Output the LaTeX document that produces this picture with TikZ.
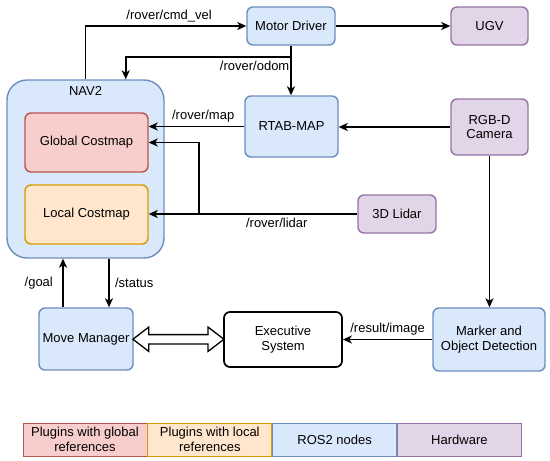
\documentclass[tikz,border=0pt]{standalone}
\usepackage{fontspec}
\setmainfont{Liberation Sans}
\usetikzlibrary{arrows.meta,positioning,shapes.arrows,calc}
\definecolor{rosfill}{HTML}{DAE8FC}
\definecolor{rosline}{HTML}{6C8EBF}
\definecolor{globfill}{HTML}{F8CECC}
\definecolor{globline}{HTML}{B85450}
\definecolor{locfill}{HTML}{FFE6CC}
\definecolor{locline}{HTML}{D79B00}
\definecolor{hwfill}{HTML}{E1D5E7}
\definecolor{hwline}{HTML}{9673A6}

\tikzset{
  every node/.style={font=\fontsize{13}{14.8}\selectfont},
  box/.style={draw, line width=1.4pt, rounded corners=6pt, align=center, inner sep=2pt},
  rosbox/.style={box, draw=rosline, fill=rosfill},
  hwbox/.style={box, draw=hwline, fill=hwfill},
  link/.style={line width=1.6pt, -{Stealth[length=9pt,width=8pt,inset=2.5pt]}},
  legcell/.style={draw, line width=0.8pt, align=center, minimum width=124pt, minimum height=33pt, inner sep=0pt},
}

\begin{document}
\begin{tikzpicture}[x=1pt,y=-1pt]
  \useasboundingbox (0,0) rectangle (550,461);

  % nodes
  \node[rosbox, rounded corners=20pt, minimum width=157pt, minimum height=178pt] (nav) at (85.5,169) {};
  \node[anchor=north] (navlabel) at ($(nav.north)+(0,4)$) {NAV2};
  \node[box, draw=globline, fill=globfill, minimum width=123pt, minimum height=59pt] (glob) at (86.5,142.5) {Global Costmap};
  \node[box, draw=locline, fill=locfill, minimum width=123pt, minimum height=59pt] (loc) at (86.5,214.5) {Local Costmap};
  \node[rosbox, minimum width=88pt, minimum height=38pt] (motor) at (291,26) {Motor Driver};
  \node[hwbox, minimum width=77pt, minimum height=38pt] (ugv) at (489.5,26) {UGV};
  \node[rosbox, minimum width=93pt, minimum height=61pt] (rtab) at (291.5,126.5) {RTAB-MAP};
  \node[hwbox, minimum width=77pt, minimum height=56pt] (cam) at (489.5,127) {RGB-D\\Camera};
  \node[hwbox, minimum width=78pt, minimum height=38pt] (lidar) at (397,214) {3D Lidar};
  \node[rosbox, minimum width=94pt, minimum height=62pt] (mm) at (86,339) {Move Manager};
  \node[box, draw=black, fill=white, line width=1.7pt, minimum width=118pt, minimum height=55pt] (exec) at (283,339.5) {Executive\\System};
  \node[rosbox, minimum width=112pt, minimum height=63pt] (det) at (489,339.5) {Marker and\\Object Detection};

  % topics
  \draw[link] (nav.north) |- node[above, pos=0.76] {/rover/cmd\_vel} (motor.west);
  \draw[link] (motor.east) -- (ugv.west);
  \draw[link] (motor.south) -- (motor.south |- rtab.north);
  \coordinate (odomsplit) at ($(motor.south)+(0,11)$);
  \draw[link] (odomsplit) -| node[below, pos=0.11] {/rover/odom} ($(nav.north east)+(-39,0)$);
  \draw[link] (rtab.west) -- node[above, pos=0.43] {/rover/map} (rtab.west -| glob.east);
  \draw[link] (cam.west) -- (cam.west -| rtab.east);
  \draw[link] (lidar.west) -- node[below, pos=0.386] {/rover/lidar} (lidar.west -| loc.east);
  \coordinate (lidsplit) at (199,214);
  \draw[link] (lidsplit) |- (glob.east);
  \draw[link] (cam.south) -- (cam.south |- det.north);
  \draw[link] (det.west) -- node[above] {/result/image} (exec.east);
  \coordinate (goalp) at ($(mm.north)+(-23,0)$);
  \draw[link] (goalp) -- node[left=6pt] {/goal} (goalp |- nav.south);
  \coordinate (statp) at ($(nav.south)+(23.5,0)$);
  \draw[link] (statp) -- node[right=2pt] {/status} (statp |- mm.north);
  \node[double arrow, draw, fill=white, line width=1.3pt, inner sep=4pt, minimum height=91pt,
        double arrow head extend=7.5pt, double arrow tip angle=75] (link2) at ($(mm.east)!0.5!(exec.west)$) {};

  % legend
  \node[legcell, draw=globline, fill=globfill] (leg1) at (85,439.5) {Plugins with global\\references};
  \node[legcell, draw=locline, fill=locfill, right=0pt of leg1] (leg2) {Plugins with local\\references};
  \node[legcell, draw=rosline, fill=rosfill, right=0pt of leg2] (leg3) {ROS2 nodes};
  \node[legcell, draw=hwline, fill=hwfill, right=0pt of leg3] (leg4) {Hardware};
\end{tikzpicture}
\end{document}
